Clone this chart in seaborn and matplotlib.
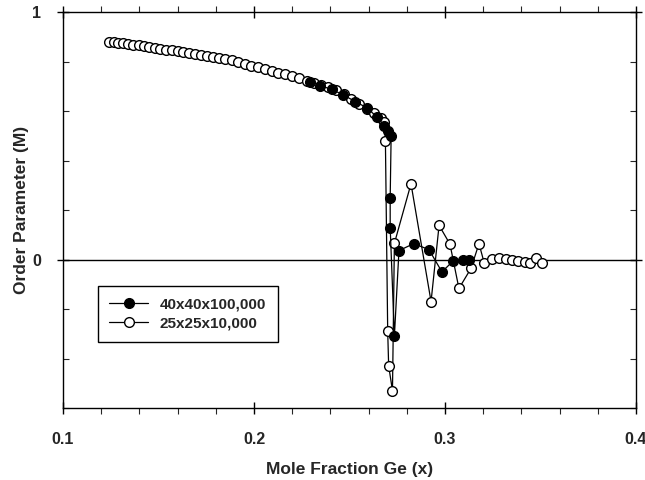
import matplotlib
matplotlib.use("Agg")
import matplotlib.pyplot as plt
import seaborn as sns
import pandas as pd
from matplotlib.ticker import MultipleLocator, FixedLocator
from matplotlib.lines import Line2D

sns.set_style("white")
plt.rcParams['font.family'] = ['Liberation Sans', 'DejaVu Sans']

open_label = "25x25x10,000"
filled_label = "40x40x100,000"

open_x = [0.124, 0.1265, 0.129, 0.1315, 0.134, 0.1368, 0.1396, 0.1424, 0.1452, 0.148,
          0.151, 0.154, 0.157, 0.160, 0.163, 0.166, 0.169, 0.1722, 0.1754, 0.1786,
          0.1818, 0.185, 0.1884, 0.1918, 0.1952, 0.1986, 0.202, 0.2056, 0.2092, 0.2128,
          0.2164, 0.220, 0.2238, 0.2276, 0.2314, 0.2352, 0.239, 0.243, 0.247, 0.251,
          0.255, 0.259, 0.263, 0.2665, 0.2683, 0.2688, 0.2700, 0.2705, 0.2725, 0.2735,
          0.2822, 0.2927, 0.2969, 0.3026, 0.3073, 0.3136, 0.3178, 0.3206, 0.3248, 0.3284,
          0.3321, 0.3352, 0.3384, 0.342, 0.3446, 0.3478, 0.351]
open_y = [0.879, 0.877, 0.875, 0.873, 0.871, 0.868, 0.865, 0.862, 0.859, 0.855,
          0.851, 0.848, 0.845, 0.842, 0.838, 0.835, 0.831, 0.828, 0.824, 0.820,
          0.816, 0.811, 0.805, 0.798, 0.790, 0.783, 0.776, 0.770, 0.763, 0.755,
          0.748, 0.740, 0.732, 0.723, 0.714, 0.705, 0.695, 0.683, 0.668, 0.650,
          0.628, 0.610, 0.590, 0.572, 0.555, 0.48, -0.29, -0.43, -0.53, 0.065,
          0.306, -0.17, 0.138, 0.062, -0.117, -0.036, 0.064, -0.016, 0.004, 0.008,
          0.004, -0.004, -0.008, -0.012, -0.016, 0.008, -0.016]

filled_x = [0.2293, 0.2346, 0.2407, 0.2468, 0.2530, 0.2591, 0.2645, 0.2682, 0.2700, 0.2718,
            0.2713, 0.2713, 0.2735, 0.2759, 0.2836, 0.2916, 0.2984, 0.3040, 0.3093, 0.3126]
filled_y = [0.719, 0.703, 0.687, 0.665, 0.638, 0.613, 0.575, 0.541, 0.520, 0.500,
            0.249, 0.129, -0.310, 0.036, 0.064, 0.040, -0.050, -0.008, -0.003, -0.003]

x_ticks = [0.1, 0.2, 0.3, 0.4]
x_tick_labels = ["0.1", "0.2", "0.3", "0.4"]
y_ticks = [0, 1]
y_tick_labels = ["0", "1"]

fig = plt.figure(figsize=(6.45, 4.8), dpi=100)
ax = fig.add_axes([63/645, 1-408/480, 573/645, 396/480])

ax.axhline(0, color='black', lw=1.0, zorder=1)

df_open = pd.DataFrame({"x": open_x, "y": open_y})
df_filled = pd.DataFrame({"x": filled_x, "y": filled_y})

sns.lineplot(data=df_open, x="x", y="y", sort=False, estimator=None, ax=ax,
             color='black', lw=0.9, marker='o', markersize=7, markerfacecolor='white',
             markeredgecolor='black', markeredgewidth=1.0, zorder=2)
sns.lineplot(data=df_filled, x="x", y="y", sort=False, estimator=None, ax=ax,
             color='black', lw=0.9, marker='o', markersize=7, markerfacecolor='black',
             markeredgecolor='black', markeredgewidth=1.0, zorder=3)

ax.set_xlim(0.1, 0.4)
ax.set_ylim(-0.6, 1.0)
ax.set_xticks(x_ticks)
ax.set_xticklabels(x_tick_labels)
ax.set_yticks(y_ticks)
ax.set_yticklabels(y_tick_labels)
ax.xaxis.set_minor_locator(MultipleLocator(0.02))
ax.yaxis.set_minor_locator(FixedLocator([-0.6, -0.4, -0.2, 0.2, 0.4, 0.6, 0.8]))

for s in ax.spines.values():
    s.set_color('black')
    s.set_linewidth(1.0)
    s.set_visible(True)

ax.tick_params(which='major', direction='inout', length=8, width=1, color='black',
               top=True, right=True, bottom=True, left=True)
ax.tick_params(axis='x', which='minor', direction='out', length=4, width=0.8,
               top=True, bottom=True)
ax.tick_params(axis='y', which='minor', direction='in', length=4, width=0.8,
               left=True, right=True)
ax.tick_params(axis='x', which='major', pad=13, labelsize=11.5)
ax.tick_params(axis='y', which='major', pad=12, labelsize=11.5)
for lab in ax.get_xticklabels() + ax.get_yticklabels():
    lab.set_fontweight('bold')

ax.set_xlabel("Mole Fraction Ge (x)", fontsize=12.5, fontweight='bold', labelpad=11)
ax.set_ylabel("Order Parameter (M)", fontsize=12.5, fontweight='bold', labelpad=2)

handles = [Line2D([], [], color='black', lw=0.9, marker='o', markersize=7,
                  markerfacecolor='black', markeredgecolor='black'),
           Line2D([], [], color='black', lw=0.9, marker='o', markersize=7,
                  markerfacecolor='white', markeredgecolor='black')]
leg = ax.legend(handles, [filled_label, open_label], loc='upper left',
                bbox_to_anchor=(0.061, 0.308), borderaxespad=0, frameon=True,
                fancybox=False, edgecolor='black', framealpha=1, handlelength=2.5,
                prop={'weight': 'bold', 'size': 11}, borderpad=0.75,
                labelspacing=0.3, handletextpad=0.8)
leg.get_frame().set_linewidth(1.0)

fig.savefig("out.png", dpi=100)
